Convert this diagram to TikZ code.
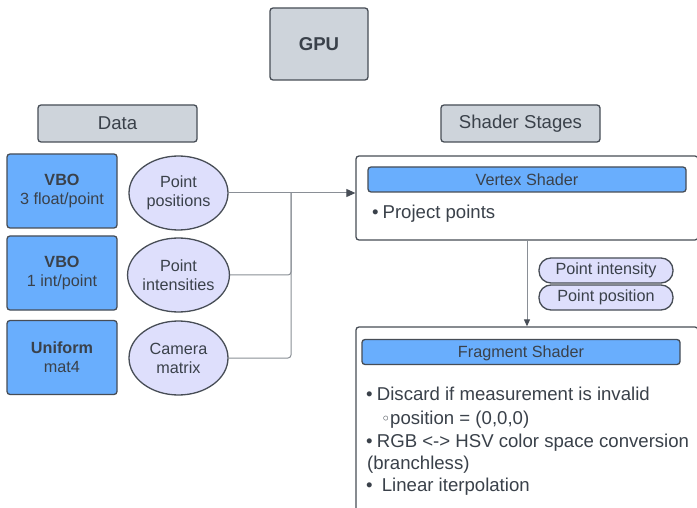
\documentclass[tikz,border=0pt]{standalone}
\usepackage{fontspec}
\setmainfont{Liberation Sans}
\newfontfamily\dejavu{DejaVu Sans}
\usetikzlibrary{shapes.geometric,arrows.meta}
\definecolor{txt}{HTML}{3A414A}
\definecolor{bord}{HTML}{474D56}
\definecolor{grayfill}{HTML}{CED4DB}
\definecolor{bluefill}{HTML}{69AEFD}
\definecolor{lav}{HTML}{DEDFFC}
\definecolor{conncol}{HTML}{8A8F96}
\begin{document}
\begin{tikzpicture}[x=1pt,y=-1pt,
  box/.style={draw=bord,line width=1.3pt,rounded corners=3pt,inner sep=0pt,text=txt,align=center},
  graybox/.style={box,fill=grayfill,font=\fontsize{18.6}{22}\selectfont},
  bluebox/.style={box,fill=bluefill,minimum width=110pt,minimum height=74pt,font=\fontsize{16.2}{19}\selectfont},
  lavell/.style={ellipse,draw=bord,line width=1.3pt,fill=lav,minimum width=99pt,minimum height=74pt,inner sep=0pt,text=txt,align=center,font=\fontsize{16.2}{19}\selectfont},
  pill/.style={box,fill=lav,rounded corners=12pt,minimum width=134pt,minimum height=25pt,font=\fontsize{16.2}{19}\selectfont},
  stagebox/.style={box,fill=white,minimum width=342pt},
  bar/.style={box,fill=bluefill,minimum width=318pt,minimum height=25pt,text depth=0pt,font=\fontsize{16.2}{19}\selectfont},
  listtxt/.style={anchor=base west,inner sep=0pt,text=txt,font=\fontsize{18.6}{22}\selectfont},
  connline/.style={draw=conncol,line width=1pt,rounded corners=3pt},
]
\fill[white] (0,0) rectangle (697,508);
\clip (0,0) rectangle (697,508);

\node[graybox,minimum width=98pt,minimum height=72pt,font=\bfseries\fontsize{18.6}{22}\selectfont] (gpu) at (319,44) {GPU};
\node[graybox,minimum width=159pt,minimum height=37pt] (data) at (117.5,123.5) {Data};
\node[graybox,minimum width=159pt,minimum height=37pt] (stages) at (520.5,123.5) {Shader Stages};

\node[bluebox] (vbo1) at (62,191) {\textbf{VBO}\\3 float/point};
\node[bluebox] (vbo2) at (62,273) {\textbf{VBO}\\1 int/point};
\node[bluebox] (unif) at (62,357.5) {\textbf{Uniform}\\mat4};

\node[lavell] (e1) at (178.5,193) {Point\\positions};
\node[lavell] (e2) at (178.5,275) {Point\\intensities};
\node[lavell] (e3) at (178.5,358) {Camera\\matrix};

\node[stagebox,minimum height=84pt] (vs) at (527,198) {};
\node[bar] (vsbar) at (527,179.5) {Vertex Shader};
\node[listtxt] (vsl1) at (372,219) {\makebox[10.4pt][l]{•}Project points};

\node[stagebox,minimum height=240pt] (fs) at (527,447) {};
\node[bar] (fsbar) at (521,352) {Fragment Shader};
\node[listtxt] (fl1) at (366,400) {\makebox[10.7pt][l]{•}Discard if measurement is invalid};
\node[listtxt] (fl2) at (381,424) {\makebox[9pt][l]{\dejavu\fontsize{16}{18}\selectfont ◦}position = (0,0,0)};
\node[listtxt] (fl3) at (366,447.7) {\makebox[10.7pt][l]{•}RGB <-> HSV color space conversion};
\node[listtxt] (fl4) at (367,469.5) {(branchless)};
\node[listtxt] (fl5) at (366,491) {\makebox[15.7pt][l]{•}Linear iterpolation};

\node[pill] (pint) at (606,270.5) {Point intensity};
\node[pill] (ppos) at (606,297.5) {Point position};

\coordinate (j) at (291,193);
\draw[connline,-{Triangle[length=9pt,width=8pt,color=bord]}] (e1.east) -- (vs.west |- e1.east);
\draw[connline] (e2.east) -| (j);
\draw[connline] (e3.east) -| (j);
\draw[connline,-{Triangle[length=7pt,width=6pt,color=bord]}] (vs.south) -- (fs.north);
\end{tikzpicture}
\end{document}
